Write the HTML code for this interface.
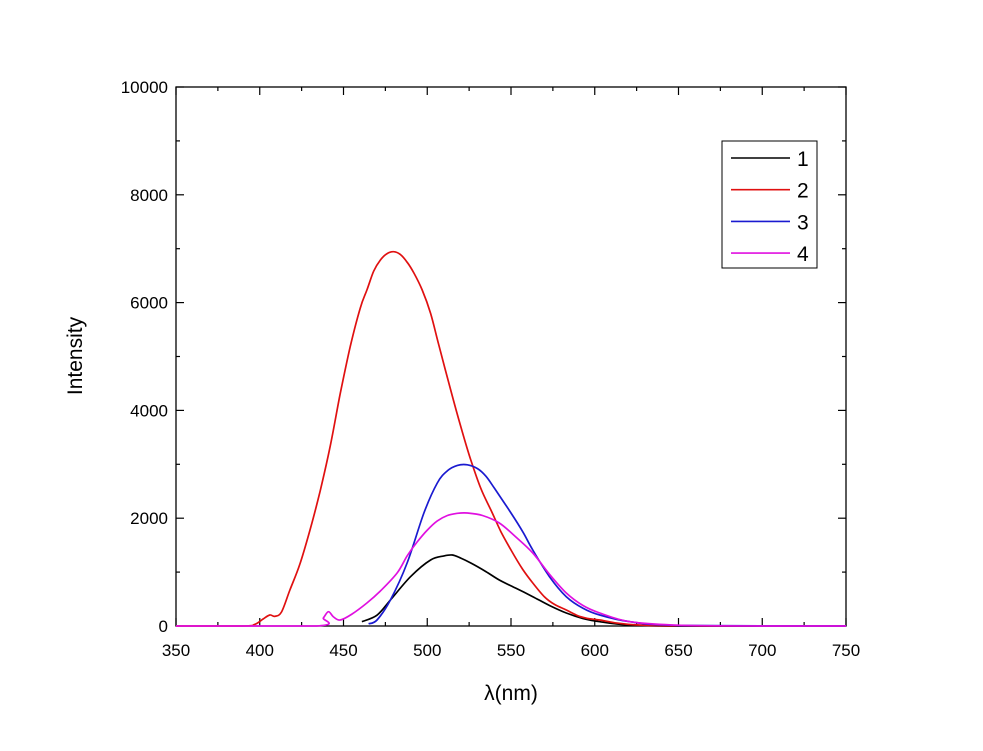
<!DOCTYPE html>
<html><head><meta charset="utf-8"><style>
body{margin:0;background:#fff;font-family:"Liberation Sans",Arial,sans-serif}
svg{display:block}
</style></head><body>
<svg id="chart" width="983" height="751" xmlns="http://www.w3.org/2000/svg" font-family="Liberation Sans, Arial, sans-serif"></svg>
<script>
const xTicks=[350,400,450,500,550,600,650,700,750];
const yTicks=[0,2000,4000,6000,8000,10000];
const s1x=[461,470,478,490,502,510,515,520,526,535,543,553,563,573,583,593,603,620,650,750];
const s1y=[80,200,482,915,1225,1300,1317,1260,1169,1010,853,700,544,380,241,140,80,20,0,0];
const s2x=[350,390,397,402,406,409,413,418,424,430,436,442,448,454,460,464,468,472,476,480,484,488,492,497,502,507,514,520,526,532,538,544,550,557,563,570,576,583,590,596,603,612,625,650,750];
const s2y=[0,0,30,130,204,180,260,668,1150,1781,2500,3327,4300,5182,5900,6234,6580,6790,6910,6945,6890,6750,6550,6234,5800,5200,4378,3700,3080,2550,2152,1750,1410,1050,798,540,400,297,190,140,111,60,20,3,0];
const s3x=[465,470,478,488,498,506,512,518,524,530,535,540,545,550,557,563,573,583,593,603,621,650,750];
const s3y=[40,111,482,1169,2096,2653,2880,2980,2990,2920,2780,2560,2330,2096,1750,1410,915,544,330,204,80,10,0];
const s4x=[350,434,438,441,444,448,455,464,472,482,488,494,500,506,512,518,524,533,543,553,563,573,583,593,603,621,650,700,750];
const s4y=[0,0,150,266,170,111,220,427,650,983,1300,1560,1780,1950,2050,2090,2096,2050,1911,1650,1354,960,612,380,241,80,15,0,0];
const L=176,R=846,T=87,B=626;
const X=v=>L+(v-350)/400*(R-L);
const Y=v=>B-v/10000*(B-T);
const svg=document.getElementById('chart');
const NS='http://www.w3.org/2000/svg';
function mk(t,a,p){const e=document.createElementNS(NS,t);for(const k in a)e.setAttribute(k,a[k]);(p||svg).appendChild(e);return e;}
function smooth(xs,ys){const P=xs.map((x,i)=>[X(x),Y(ys[i])]);let d='M'+P[0][0].toFixed(1)+','+P[0][1].toFixed(1);
 for(let i=0;i<P.length-1;i++){const p0=P[Math.max(i-1,0)],p1=P[i],p2=P[i+1],p3=P[Math.min(i+2,P.length-1)];
  let c1=[p1[0]+(p2[0]-p0[0])/6,p1[1]+(p2[1]-p0[1])/6],c2=[p2[0]-(p3[0]-p1[0])/6,p2[1]-(p3[1]-p1[1])/6];
  c1[1]=Math.min(c1[1],B);c2[1]=Math.min(c2[1],B);
  d+='C'+c1.map(v=>v.toFixed(1)).join(',')+' '+c2.map(v=>v.toFixed(1)).join(',')+' '+p2.map(v=>v.toFixed(1)).join(',');}
 return d;}
const frame=mk('rect',{x:L,y:T,width:R-L,height:B-T,fill:'none',stroke:'#000','stroke-width':1.3});


for(let v=350;v<=750;v+=25){const maj=v%50===0,len=maj?8:4;
 mk('line',{x1:X(v),x2:X(v),y1:B,y2:B-len,stroke:'#000','stroke-width':1.2});
 mk('line',{x1:X(v),x2:X(v),y1:T,y2:T+len,stroke:'#000','stroke-width':1.2});}
for(let v=0;v<=10000;v+=1000){const maj=v%2000===0,len=maj?8:4;
 mk('line',{x1:L,x2:L+len,y1:Y(v),y2:Y(v),stroke:'#000','stroke-width':1.2});
 mk('line',{x1:R,x2:R-len,y1:Y(v),y2:Y(v),stroke:'#000','stroke-width':1.2});}
xTicks.forEach(v=>{const t=mk('text',{x:X(v),y:B+30,'text-anchor':'middle','font-size':17});t.textContent=v;
 
 });
yTicks.forEach(v=>{const t=mk('text',{x:L-8,y:Y(v)+6,'text-anchor':'end','font-size':17});t.textContent=v;
 
 });
const xt=mk('text',{x:511,y:700,'text-anchor':'middle','font-size':21});xt.textContent='λ(nm)';


const yt=mk('text',{x:82,y:356,'text-anchor':'middle','font-size':21,transform:'rotate(-90 82 356)'});yt.textContent='Intensity';


const series=[[s1x,s1y,'#000','1'],[s2x,s2y,'#e01010','2'],[s3x,s3y,'#1a1ad0','3'],[s4x,s4y,'#e010e0','4']];
series.forEach(([xs,ys,c,n])=>{
 const p=mk('path',{d:smooth(xs,ys),fill:'none',stroke:c,'stroke-width':1.7,'stroke-linejoin':'round'});
 
 });
const lg=mk('g',{});


mk('rect',{x:722,y:141,width:95,height:127,fill:'#fff',stroke:'#000','stroke-width':1},lg);
series.forEach(([xs,ys,c,n],i)=>{const y=158+i*31.7;
 mk('line',{x1:731,x2:790,y1:y,y2:y,stroke:c,'stroke-width':1.6},lg);
 const t=mk('text',{x:797,y:y+8,'font-size':21},lg);t.textContent=n;
 
 });
</script>
</body></html>
